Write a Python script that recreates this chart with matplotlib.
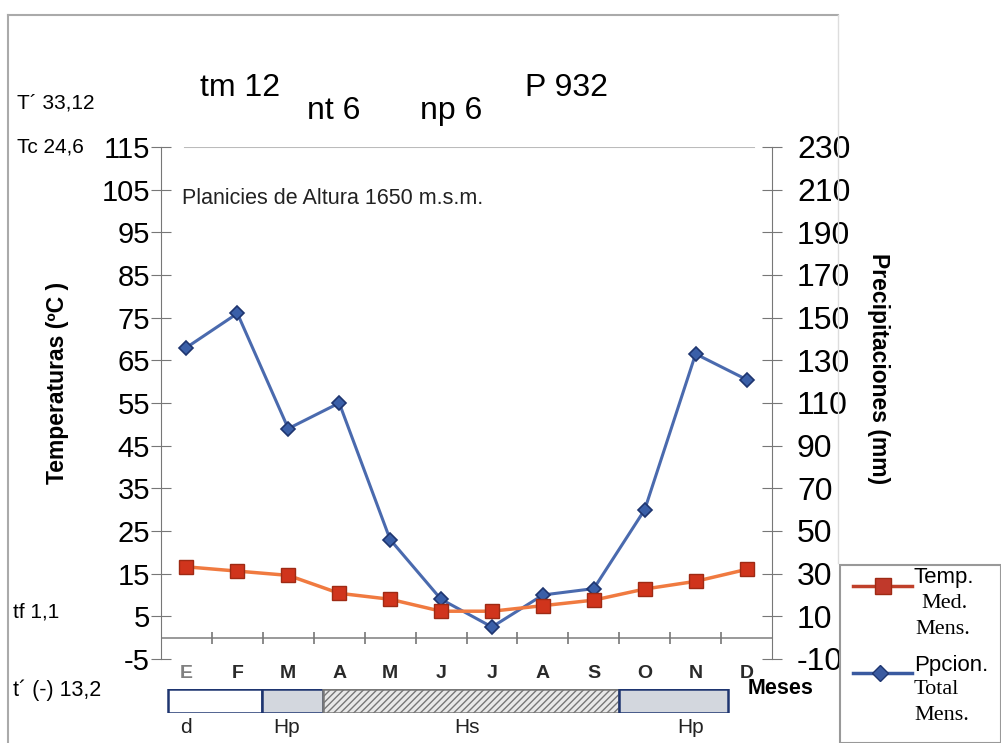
import matplotlib.pyplot as plt
from matplotlib.patches import Rectangle
from matplotlib.lines import Line2D

# datos del climograma
meses = ["E", "F", "M", "A", "M", "J", "J", "A", "S", "O", "N", "D"]
temp = [16.6, 15.6, 14.6, 10.4, 9.0, 6.2, 6.2, 7.5, 8.8, 11.4, 13.2, 16.0]
ppcion = [136, 152, 98, 110, 46, 18, 5, 20, 23, 60, 133, 121]

# periodos (inicio, fin en unidades de mes, etiqueta, tipo)
periodos = [(-0.36, 1.49, "d", "seco"), (1.49, 2.69, "Hp", "hp"),
            (2.69, 8.5, "Hs", "hs"), (8.5, 10.64, "Hp", "hp")]

W, H = 1001, 743
plt.rcParams['font.family'] = ['Liberation Sans', 'DejaVu Sans']
plt.rcParams['axes.unicode_minus'] = False
plt.rcParams['hatch.color'] = "#999999"
plt.rcParams['hatch.linewidth'] = 1.0
fig = plt.figure(figsize=(W / 100, H / 100), dpi=100)


def fx(px):
    return px / W


def fy(py):
    return 1 - py / H


x = list(range(len(meses)))
ax = fig.add_axes([fx(161), fy(659), fx(772) - fx(161), fy(147) - fy(659)])
ax2 = ax.twinx()

ax.set_xlim(-0.5, 11.5)
ax.set_ylim(-5, 115)
ax2.set_ylim(-10, 230)
ax.set_yticks(range(-5, 116, 10))
ax2.set_yticks(range(-10, 231, 20))

for a in (ax, ax2):
    for s in ("top", "bottom"):
        a.spines[s].set_visible(False)
    a.spines["left"].set_color("#777777")
    a.spines["right"].set_color("#777777")
ax.spines["right"].set_visible(False)
ax2.spines["left"].set_visible(False)
ax.tick_params(axis="y", direction="inout", length=14, color="#777777",
               labelsize=21, pad=1)
ax2.tick_params(axis="y", direction="inout", length=14, color="#777777",
                labelsize=23, pad=11)
ax.set_xticks(x)
ax.set_xticklabels(meses, fontsize=14, fontweight="bold")
ax.tick_params(axis="x", length=0, pad=4)
for lbl in ax.get_xticklabels():
    lbl.set_color("#2a2a2a")
ax.get_xticklabels()[0].set_color("#808080")

# línea de cero y cuadrícula superior
ax.axhline(0, color="#888888", lw=1.2, zorder=1)
ax.axhline(115, xmin=0.04, xmax=0.97, color="#bbbbbb", lw=1.5, zorder=1)
ax.plot([i + 0.5 for i in x[:-1]], [0] * (len(x) - 1), ls="none",
        marker="|", ms=9, mew=1.2, color="#777777", zorder=1)

ax.set_ylabel("Temperaturas (ºC )", fontsize=16.5, fontweight="bold", va="center")
ax.yaxis.set_label_coords(-0.17, 0.54)
ax2.set_ylabel("Precipitaciones (mm)", fontsize=16.5, fontweight="bold",
               rotation=-90, va="center")
ax2.yaxis.set_label_coords(1.175, 0.568)

ax2.plot(x, ppcion, color="#4a6aae", lw=2.2, marker="D", ms=7,
         mfc="#3a5fa8", mec="#1e3570", mew=1.2, zorder=3)
ax2.plot(x, [t * 2 for t in temp], color="#f07a40", lw=2.5, marker="s", ms=10,
         mfc="#d0341c", mec="#9e2a14", mew=1, zorder=4)

ax.text(0.035, 0.888, "Planicies de Altura 1650 m.s.m.", transform=ax.transAxes,
        fontsize=15.5, color="#222222")

# barra de periodos
axb = fig.add_axes([fx(161), fy(713), fx(772) - fx(161), fy(689) - fy(713)])
axb.set_xlim(-0.5, 11.5)
axb.set_ylim(0, 1)
axb.axis("off")
estilos = {"seco": dict(fc="white", ec="#1e3570", hatch=None),
           "hp": dict(fc="#d3d7de", ec="#1e3570", hatch=None),
           "hs": dict(fc="#e8e8e8", ec="#777777", hatch="/////")}
for ini, fin, et, tipo in periodos:
    st = estilos[tipo]
    axb.add_patch(Rectangle((ini, 0), fin - ini, 1, facecolor=st["fc"],
                            edgecolor=st["ec"], lw=1.8, hatch=st["hatch"]))
etq_pos = [(-0.02, "d"), (1.97, "Hp"), (5.5, "Hs"), (9.9, "Hp")]
for px_, et in etq_pos:
    axb.text(px_, -0.6, et, ha="center", va="center", fontsize=15,
             color="#222222")

# textos de la izquierda y superiores
fig.text(fx(17), fy(103), "T´ 33,12", fontsize=15, va="center")
fig.text(fx(17), fy(147), "Tc 24,6", fontsize=15, va="center")
fig.text(fx(13), fy(612), "tf 1,1", fontsize=15, va="center")
fig.text(fx(13), fy(690), "t´ (-) 13,2", fontsize=15.5, va="center")
fig.text(fx(200), fy(88), "tm 12", fontsize=23, va="center")
fig.text(fx(307), fy(111), "nt 6", fontsize=23, va="center")
fig.text(fx(420), fy(111), "np 6", fontsize=23, va="center")
fig.text(fx(525), fy(88), "P 932", fontsize=23, va="center")
fig.text(fx(748), fy(688), "Meses", fontsize=15.5, fontweight="bold", va="center")

# marco del gráfico
fig.add_artist(Line2D([fx(8), fx(838)], [fy(15), fy(15)], color="#aaaaaa", lw=1.5))
fig.add_artist(Line2D([fx(8), fx(8)], [fy(15), 0], color="#aaaaaa", lw=1.5))
fig.add_artist(Line2D([fx(838), fx(838)], [fy(15), fy(563)], color="#dddddd", lw=1))

# leyenda
fig.add_artist(Rectangle((fx(840), 0), 1 - fx(840), fy(565), transform=fig.transFigure,
                         fc="white", ec="#999999", lw=1.5))
fig.add_artist(Line2D([fx(853), fx(912)], [fy(586), fy(586)], color="#c0402a", lw=2.5))
fig.add_artist(Line2D([fx(883)], [fy(586)], marker="s", ms=11, color="#c0392b",
                      mec="#9e2a14"))
fig.add_artist(Line2D([fx(853), fx(912)], [fy(673), fy(673)], color="#3a5aa0", lw=2.5))
fig.add_artist(Line2D([fx(880)], [fy(673)], marker="D", ms=8, color="#3a5aa0",
                      mec="#1e3570"))
fig.text(fx(914), fy(578), "Temp.", fontsize=16, va="center")
fig.text(fx(921), fy(604), "Med.", fontsize=16, va="center", family="Liberation Serif")
fig.text(fx(915), fy(629), "Mens.", fontsize=16, va="center", family="Liberation Serif")
fig.text(fx(914), fy(666), "Ppcion.", fontsize=16, va="center")
fig.text(fx(914), fy(690), "Total", fontsize=16, va="center", family="Liberation Serif")
fig.text(fx(914), fy(715), "Mens.", fontsize=16, va="center", family="Liberation Serif")

fig.savefig("out.png", dpi=100)
